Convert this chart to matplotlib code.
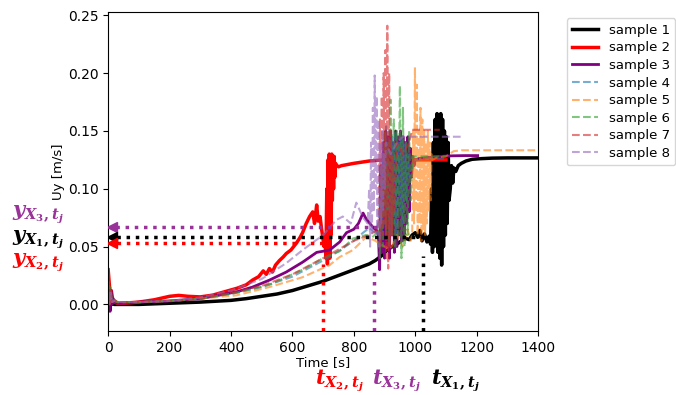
import numpy as np
import matplotlib.pyplot as plt

plt.rcParams['mathtext.fontset'] = 'custom'
plt.rcParams['mathtext.it'] = 'DejaVu Serif:italic:bold'
plt.rcParams['mathtext.rm'] = 'DejaVu Serif:bold'

# ---- data ----
t1 = [0, 3, 6, 9, 12, 15, 20, 30, 50, 100, 200, 300, 400, 450, 500, 550, 600, 650, 700, 750,
      800, 850, 870, 890, 900, 910, 920, 930, 940, 950, 960, 970, 980, 990, 1000, 1008, 1015,
      1022, 1030, 1038, 1045, 1050,
      1053, 1056, 1059, 1062, 1065, 1068, 1071, 1074, 1077, 1080, 1083, 1086, 1089, 1092, 1095,
      1098, 1101, 1104, 1107, 1110, 1114, 1118, 1122, 1126, 1132, 1140, 1150, 1165, 1185, 1210,
      1250, 1300, 1400]
y1 = [0.012, 0.004, -0.005, 0.006, 0.0, 0.002, 0.0, 0.0, 0.0, 0.0, 0.001, 0.002, 0.0035, 0.005,
      0.007, 0.009, 0.012, 0.016, 0.020, 0.025, 0.030, 0.035, 0.038, 0.042, 0.045, 0.047, 0.049,
      0.051, 0.052, 0.054, 0.056, 0.057, 0.056, 0.060, 0.062, 0.058, 0.064, 0.055, 0.061, 0.054,
      0.059, 0.052,
      0.10, 0.045, 0.14, 0.05, 0.16, 0.06, 0.165, 0.045, 0.16, 0.04, 0.165, 0.034, 0.16, 0.05,
      0.15, 0.06, 0.145, 0.07, 0.14, 0.09, 0.10, 0.12, 0.105, 0.118, 0.115, 0.12, 0.122, 0.124,
      0.1255, 0.126, 0.1265, 0.1267, 0.1267]

t2 = [0, 3, 6, 10, 15, 20, 30, 50, 100, 150, 200, 230, 260, 300, 340, 380, 420, 450, 470, 490,
      505, 515, 525, 535, 545, 558, 570, 580, 595, 613, 625, 633, 645, 656, 666, 672, 679, 684,
      690, 695, 699, 703, 706, 709, 712, 714, 716, 718, 720, 722, 724, 726, 728, 730, 732, 734,
      736, 738, 740, 745, 750, 760, 780, 800, 850, 900, 1000, 1100]
y2 = [0.03, 0.02, 0.01, 0.012, 0.004, 0.002, 0.001, 0.001, 0.002, 0.004, 0.007, 0.0078, 0.007,
      0.0065, 0.008, 0.011, 0.014, 0.017, 0.021, 0.024, 0.029, 0.026, 0.031, 0.028, 0.034, 0.038,
      0.041, 0.044, 0.047, 0.053, 0.058, 0.062, 0.070, 0.076, 0.080, 0.070, 0.086, 0.072, 0.076,
      0.065, 0.058, 0.050, 0.060, 0.040, 0.100, 0.035, 0.125, 0.050, 0.130, 0.040, 0.128, 0.060,
      0.130, 0.090, 0.125, 0.100, 0.128, 0.110, 0.122, 0.120, 0.119, 0.120, 0.121, 0.122, 0.124,
      0.125, 0.125, 0.125]

t3 = [0, 3, 6, 9, 12, 16, 20, 30, 50, 100, 200, 300, 362, 420, 470, 525, 580, 633, 679, 721,
      754, 776, 800, 815, 830, 840, 852, 865, 874, 880,
      884, 888, 892, 896, 900, 904, 908, 912, 916, 920, 924, 928, 932, 936, 940, 944, 948, 952,
      956, 960, 964, 968, 972, 976, 980, 984, 988, 992, 996, 1000,
      1010, 1040, 1080, 1120, 1160, 1203]
y3 = [0.02, 0.01, -0.006, 0.012, 0.0, 0.005, 0.002, 0.001, 0.001, 0.002, 0.003, 0.005, 0.008,
      0.011, 0.015, 0.021, 0.028, 0.0365, 0.045, 0.047, 0.054, 0.062, 0.065, 0.070, 0.079, 0.074,
      0.070, 0.066, 0.064, 0.060,
      0.03, 0.12, 0.045, 0.14, 0.04, 0.15, 0.05, 0.145, 0.04, 0.15, 0.06, 0.14, 0.045, 0.15, 0.05,
      0.145, 0.06, 0.15, 0.055, 0.145, 0.06, 0.14, 0.07, 0.145, 0.08, 0.135, 0.11, 0.128, 0.12,
      0.125,
      0.126, 0.127, 0.128, 0.1285, 0.1287, 0.1287]

t4 = [0, 4, 8, 12, 20, 30, 50, 100, 200, 300, 400, 500, 600, 700, 750, 800, 830, 850, 870, 880,
      885, 890, 895, 900, 905, 910, 915, 920, 925, 930, 935, 940, 945, 950, 955, 960, 965, 970,
      975, 980, 1000, 1050, 1100]
y4 = [0.025, 0.005, 0.012, 0.002, 0.004, 0.002, 0.002, 0.002, 0.003, 0.005, 0.009, 0.015, 0.024,
      0.038, 0.046, 0.055, 0.062, 0.066, 0.062, 0.07,
      0.09, 0.06, 0.13, 0.07, 0.154, 0.08, 0.15, 0.06, 0.145, 0.07, 0.15, 0.06, 0.14, 0.08, 0.145,
      0.07, 0.14, 0.09, 0.13, 0.11, 0.125, 0.126, 0.126]

t5 = [0, 4, 8, 12, 20, 30, 50, 100, 200, 300, 417, 525, 633, 721, 754, 797, 841, 870, 900, 920,
      940, 960, 975, 985,
      990, 993, 996, 999, 1002, 1005, 1008, 1011, 1014, 1017, 1020, 1023, 1026, 1029, 1032, 1035,
      1038, 1041, 1044, 1047, 1050, 1053, 1056,
      1070, 1100, 1125, 1150, 1200, 1300, 1400]
y5 = [0.02, 0.0, 0.01, 0.002, 0.003, 0.002, 0.002, 0.002, 0.003, 0.005, 0.0078, 0.015, 0.0235,
      0.034, 0.041, 0.047, 0.0585, 0.055, 0.05, 0.048, 0.06, 0.05, 0.065, 0.055,
      0.06, 0.15, 0.07, 0.205, 0.08, 0.19, 0.06, 0.15, 0.07, 0.17, 0.055, 0.16, 0.065, 0.15, 0.06,
      0.14, 0.07, 0.15, 0.08, 0.14, 0.09, 0.13, 0.125,
      0.127, 0.128, 0.1325, 0.1333, 0.1333, 0.1333, 0.1333]

t6 = [0, 4, 8, 12, 20, 30, 50, 100, 200, 300, 417, 525, 633, 700, 754, 797, 840, 860, 875,
      880, 885, 890, 895, 900, 905, 910, 915, 920, 925, 930, 935, 940, 945, 950, 955, 960, 965,
      970, 975, 980, 985, 990, 1000, 1050, 1100]
y6 = [0.03, 0.005, 0.015, 0.003, 0.004, 0.002, 0.002, 0.002, 0.003, 0.005, 0.01, 0.017, 0.03,
      0.04, 0.046, 0.057, 0.06, 0.058, 0.062,
      0.07, 0.04, 0.12, 0.05, 0.15, 0.06, 0.14, 0.05, 0.177, 0.06, 0.16, 0.05, 0.15, 0.06, 0.189,
      0.04, 0.17, 0.05, 0.14, 0.06, 0.15, 0.09, 0.128, 0.128, 0.128, 0.128]

t7 = [0, 4, 8, 12, 20, 30, 50, 100, 200, 300, 400, 500, 600, 700, 800, 850, 880,
      885, 888, 891, 894, 897, 900, 903, 906, 909, 912, 915, 918, 921, 924, 927, 930,
      940, 960, 980, 990, 1000, 1050, 1080]
y7 = [0.025, 0.004, 0.012, 0.002, 0.004, 0.002, 0.002, 0.002, 0.003, 0.005, 0.01, 0.016, 0.026,
      0.04, 0.055, 0.06, 0.065,
      0.16, 0.05, 0.18, 0.06, 0.20, 0.07, 0.22, 0.04, 0.241, 0.031, 0.2, 0.05, 0.15, 0.06, 0.13,
      0.08, 0.14, 0.13, 0.14, 0.151, 0.151, 0.151, 0.151]

t8 = [0, 4, 8, 12, 20, 30, 50, 100, 200, 300, 400, 500, 580, 633, 700, 743, 764, 790, 808, 830,
      845, 850, 853, 856, 859, 862, 865, 868, 871, 874, 877, 880, 883, 886, 889, 892, 895, 898,
      901, 904, 920, 940, 960, 1000, 1100, 1157]
y8 = [0.02, 0.003, 0.01, 0.002, 0.003, 0.002, 0.002, 0.002, 0.003, 0.006, 0.012, 0.022, 0.0357,
      0.047, 0.06, 0.073, 0.076, 0.07, 0.088, 0.075, 0.07,
      0.1, 0.05, 0.14, 0.06, 0.17, 0.08, 0.198, 0.1, 0.18, 0.06, 0.16, 0.05, 0.14, 0.07, 0.15,
      0.08, 0.13, 0.1, 0.14, 0.13, 0.14, 0.145, 0.145, 0.145, 0.145]

labels = ['sample 1', 'sample 2', 'sample 3', 'sample 4',
          'sample 5', 'sample 6', 'sample 7', 'sample 8']

# marked crossing levels / times
mark_y = {'X3': 0.0672, 'X1': 0.0585, 'X2': 0.053}
mark_t = {'X2': 701, 'X3': 866, 'X1': 1025}
mark_top = {'X2': 0.035, 'X3': 0.03, 'X1': 0.042}

purple_m = '#993399'

fig = plt.figure(figsize=(6.76, 3.95), dpi=100)
ax = fig.add_axes([0.16, 0.162, 0.636, 0.808])

ax.plot(t1, y1, color='black', lw=2.5, label=labels[0])
ax.plot(t2, y2, color='red', lw=2.5, label=labels[1])
ax.plot(t3, y3, color='purple', lw=2.0, label=labels[2])
dashed = [(t4, y4, 'tab:blue'), (t5, y5, 'tab:orange'), (t6, y6, 'tab:green'),
          (t7, y7, 'tab:red'), (t8, y8, 'tab:purple')]
for i, (tt, yy, c) in enumerate(dashed):
    ax.plot(tt, yy, '--', color=c, lw=1.5, alpha=0.6, label=labels[3 + i])

# dotted guide lines
ends = {'X3': 875, 'X1': 1030, 'X2': 700}
cols = {'X3': purple_m, 'X1': 'black', 'X2': 'red'}
for k in ['X3', 'X1', 'X2']:
    ax.plot([ends[k], 10], [mark_y[k], mark_y[k]], ':', color=cols[k], lw=2.5, zorder=6)
    ax.plot([12], [mark_y[k]], marker='<', color=cols[k], ms=7, zorder=7)
    ax.plot([mark_t[k], mark_t[k]], [-0.023, mark_top[k]], ':', color=cols[k], lw=2.5, zorder=6)

ax.set_xlim(0, 1400)
ax.set_ylim(-0.023, 0.253)
ax.set_xticks([0, 200, 400, 600, 800, 1000, 1200, 1400])
ax.set_yticks([0.0, 0.05, 0.10, 0.15, 0.20, 0.25])
ax.set_yticklabels(['0.00', '0.05', '0.10', '0.15', '0.20', '0.25'])
ax.set_xlabel('Time [s]', fontsize=9.5, labelpad=1)
ax.set_ylabel('Uy [m/s]', fontsize=9.5, labelpad=2)
ax.legend(loc='upper left', bbox_to_anchor=(1.051, 1.0), fontsize=9.5, labelspacing=0.35)

fs = 15
fig.text(38 / 676, 1 - 215 / 395, r'$y_{X_3,t_j}$', color=purple_m, fontsize=fs, ha='center', va='center')
fig.text(38 / 676, 1 - 240 / 395, r'$y_{X_1,t_j}$', color='black', fontsize=fs, ha='center', va='center')
fig.text(38 / 676, 1 - 263 / 395, r'$y_{X_2,t_j}$', color='red', fontsize=fs, ha='center', va='center')
fig.text(340 / 676, 1 - 381 / 395, r'$t_{X_2,t_j}$', color='red', fontsize=fs, ha='center', va='center')
fig.text(397 / 676, 1 - 381 / 395, r'$t_{X_3,t_j}$', color=purple_m, fontsize=fs, ha='center', va='center')
fig.text(456 / 676, 1 - 381 / 395, r'$t_{X_1,t_j}$', color='black', fontsize=fs, ha='center', va='center')

fig.savefig('out.png', dpi=100)
